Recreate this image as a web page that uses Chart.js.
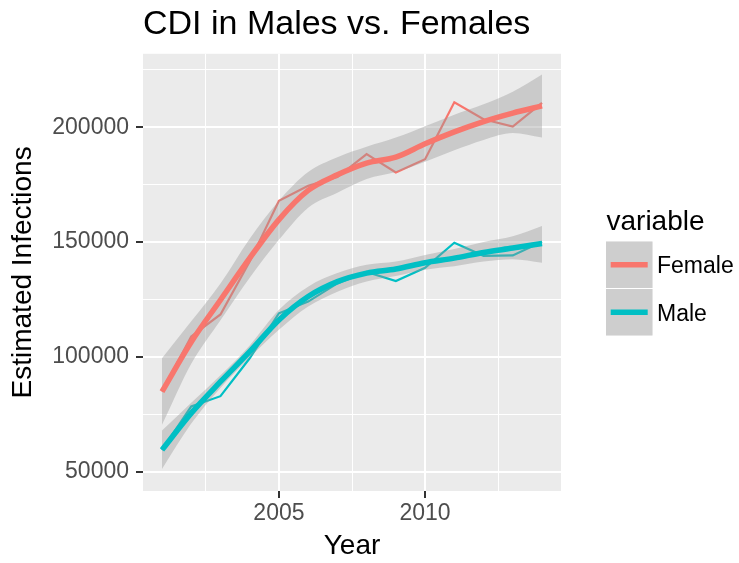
<!DOCTYPE html>
<html>
<head>
<meta charset="utf-8">
<script src="https://cdn.jsdelivr.net/npm/chart.js@4"></script>
<style>
  html, body { margin: 0; padding: 0; background: #ffffff; }
  #wrap { width: 739px; height: 563px; }
</style>
</head>
<body>
<div id="wrap"><canvas id="c" width="739" height="563"></canvas></div>
<script>
// ---- data ----
const years = [2001, 2002, 2003, 2004, 2005, 2006, 2007, 2008, 2009, 2010, 2011, 2012, 2013, 2014];

const femaleRaw    = [84900, 108900, 118500, 141500, 168000, 174500, 178300, 188300, 180300, 186100, 210900, 203500, 200300, 210600];
const maleRaw      = [59500, 78400, 82900, 99400, 119000, 124100, 132000, 137000, 133000, 138800, 149700, 144000, 144200, 150200];

const femaleSmooth = [84900, 106500, 124800, 143000, 159800, 172500, 179300, 184400, 187000, 192800, 198000, 202500, 206200, 209300];
const femaleUpper  = [99400, 115500, 132000, 151500, 168000, 180500, 187000, 191500, 195500, 200500, 205500, 210000, 215500, 223000];
const femaleLower  = [70400, 97000, 116000, 134500, 151000, 165000, 171500, 177500, 180500, 185000, 190000, 194500, 197500, 195500];

const maleSmooth   = [59500, 75500, 89200, 102300, 116100, 126300, 132800, 136500, 138300, 141000, 143000, 145500, 147400, 149400];
const maleUpper    = [67900, 80000, 92000, 105000, 120500, 130600, 136500, 140100, 141500, 144400, 147000, 150000, 152500, 157000];
const maleLower    = [51200, 71000, 86500, 99700, 111800, 121900, 128400, 132800, 135200, 138000, 139500, 141500, 142500, 141000];

const seriesNames  = ["Female", "Male"];
const xMajorTicks  = [2005, 2010];
const xMinorTicks  = [2002.5, 2007.5, 2012.5];
const yMajorTicks  = [50000, 100000, 150000, 200000];
const yMinorTicks  = [75000, 125000, 175000, 225000];

const titleText  = "CDI in Males vs. Females";
const xTitleText = "Year";
const yTitleText = "Estimated Infections";
const legendTitleText = "variable";

// ---- styles ----
const FONT = "'Liberation Sans', Arial, Helvetica, sans-serif";
const COL_F = "#F8766D";
const COL_M = "#00BFC4";
const RIBBON = "rgba(153,153,153,0.4)";

const pts = arr => years.map((y, i) => ({ x: y, y: arr[i] }));

const xTicksAll = xMajorTicks.concat(xMinorTicks).sort((a, b) => a - b);
const yTicksAll = yMajorTicks.concat(yMinorTicks).sort((a, b) => a - b);

const panelBg = {
  id: 'panelBg',
  beforeDraw(chart) {
    const { ctx, chartArea: a } = chart;
    ctx.save();
    ctx.fillStyle = '#ffffff';
    ctx.fillRect(0, 0, chart.width, chart.height);
    ctx.fillStyle = '#EBEBEB';
    ctx.fillRect(a.left, a.top, a.right - a.left, a.bottom - a.top);
    ctx.restore();
  }
};

const ggLegend = {
  id: 'ggLegend',
  afterDraw(chart) {
    const ctx = chart.ctx;
    ctx.save();
    ctx.fillStyle = '#000000';
    ctx.font = "28px " + FONT;
    ctx.textBaseline = 'alphabetic';
    ctx.textAlign = 'left';
    ctx.fillText(legendTitleText, 606.5, 230);
    const cols = [COL_F, COL_M];
    const boxX = 606, boxW = 46.5, boxH = 46.5, top0 = 241.5;
    for (let i = 0; i < seriesNames.length; i++) {
      const by = top0 + i * (boxH + 1);
      ctx.fillStyle = '#F2F2F2';
      ctx.fillRect(boxX, by, boxW, boxH);
      ctx.fillStyle = RIBBON;
      ctx.fillRect(boxX, by, boxW, boxH);
      ctx.strokeStyle = cols[i];
      ctx.lineWidth = 5.5;
      ctx.lineCap = 'butt';
      ctx.beginPath();
      const cy = by + boxH / 2;
      ctx.moveTo(610.7, cy);
      ctx.lineTo(647.7, cy);
      ctx.stroke();
      ctx.fillStyle = '#000000';
      ctx.font = "23px " + FONT;
      ctx.fillText(seriesNames[i], 657, cy + 8.4);
    }
    ctx.restore();
  }
};

const smoothDs = (label, data, color) => ({
  label, data: pts(data), borderColor: color, borderWidth: 5.5,
  pointRadius: 0, pointHoverRadius: 0, fill: false, order: 0,
  cubicInterpolationMode: 'monotone', borderCapStyle: 'butt', borderJoinStyle: 'round'
});
const rawDs = (label, data, color) => ({
  label, data: pts(data), borderColor: color, borderWidth: 2.2,
  pointRadius: 0, pointHoverRadius: 0, fill: false, order: 2,
  tension: 0, borderCapStyle: 'butt', borderJoinStyle: 'miter'
});
const bandDs = (label, data, fill) => ({
  label, data: pts(data), borderWidth: 0, borderColor: 'rgba(0,0,0,0)',
  backgroundColor: RIBBON, pointRadius: 0, pointHoverRadius: 0, fill, order: 1,
  cubicInterpolationMode: 'monotone'
});

const cfg = {
  type: 'line',
  data: {
    datasets: [
      smoothDs(seriesNames[0] + ' (smooth)', femaleSmooth, COL_F),
      smoothDs(seriesNames[1] + ' (smooth)', maleSmooth, COL_M),
      bandDs('Female upper', femaleUpper, '+1'),
      bandDs('Female lower', femaleLower, false),
      bandDs('Male upper', maleUpper, '+1'),
      bandDs('Male lower', maleLower, false),
      rawDs(seriesNames[0], femaleRaw, COL_F),
      rawDs(seriesNames[1], maleRaw, COL_M)
    ]
  },
  options: {
    responsive: false,
    animation: false,
    events: [],
    layout: { padding: { left: 0, top: 0, right: 178, bottom: 0 } },
    plugins: {
      legend: { display: false },
      tooltip: { enabled: false },
      title: {
        display: true, text: titleText, align: 'start', fullSize: false,
        color: '#000000', font: { family: FONT, size: 34, weight: 'normal', lineHeight: 1.2 },
        padding: { top: 4, bottom: 9 }
      }
    },
    scales: {
      x: {
        type: 'linear', min: 2000.35, max: 2014.65,
        afterBuildTicks: s => { s.ticks = xTicksAll.map(v => ({ value: v })); },
        afterFit: s => { s.height = 72; },
        border: { display: false },
        grid: {
          color: '#FFFFFF',
          lineWidth: c => (xMajorTicks.includes(c.tick.value) ? 2 : 1),
          drawTicks: true, tickLength: 7,
          tickColor: c => (xMajorTicks.includes(c.tick.value) ? '#333333' : 'rgba(0,0,0,0)'),
          tickWidth: 2
        },
        ticks: {
          autoSkip: false, maxRotation: 0, padding: 2, color: '#4D4D4D',
          font: { family: FONT, size: 23 },
          callback: v => (xMajorTicks.includes(v) ? String(v) : '')
        },
        title: {
          display: true, text: xTitleText, color: '#000000',
          font: { family: FONT, size: 28, lineHeight: 1.2 }, padding: { top: 0, bottom: 0 }
        }
      },
      y: {
        type: 'linear', min: 41600, max: 232000,
        afterBuildTicks: s => { s.ticks = yTicksAll.map(v => ({ value: v })); },
        afterFit: s => { s.width = 143; },
        border: { display: false },
        grid: {
          color: '#FFFFFF',
          lineWidth: c => (yMajorTicks.includes(c.tick.value) ? 2 : 1),
          drawTicks: true, tickLength: 7,
          tickColor: c => (yMajorTicks.includes(c.tick.value) ? '#333333' : 'rgba(0,0,0,0)'),
          tickWidth: 2
        },
        ticks: {
          autoSkip: false, padding: 7, color: '#4D4D4D',
          font: { family: FONT, size: 23 },
          callback: v => (yMajorTicks.includes(v) ? String(v) : '')
        },
        title: {
          display: true, text: yTitleText, color: '#000000',
          font: { family: FONT, size: 28, lineHeight: 1.2 }, padding: { top: 6, bottom: 0 }
        }
      }
    }
  },
  plugins: [panelBg, ggLegend]
};

new Chart(document.getElementById('c'), cfg);
</script>
</body>
</html>
